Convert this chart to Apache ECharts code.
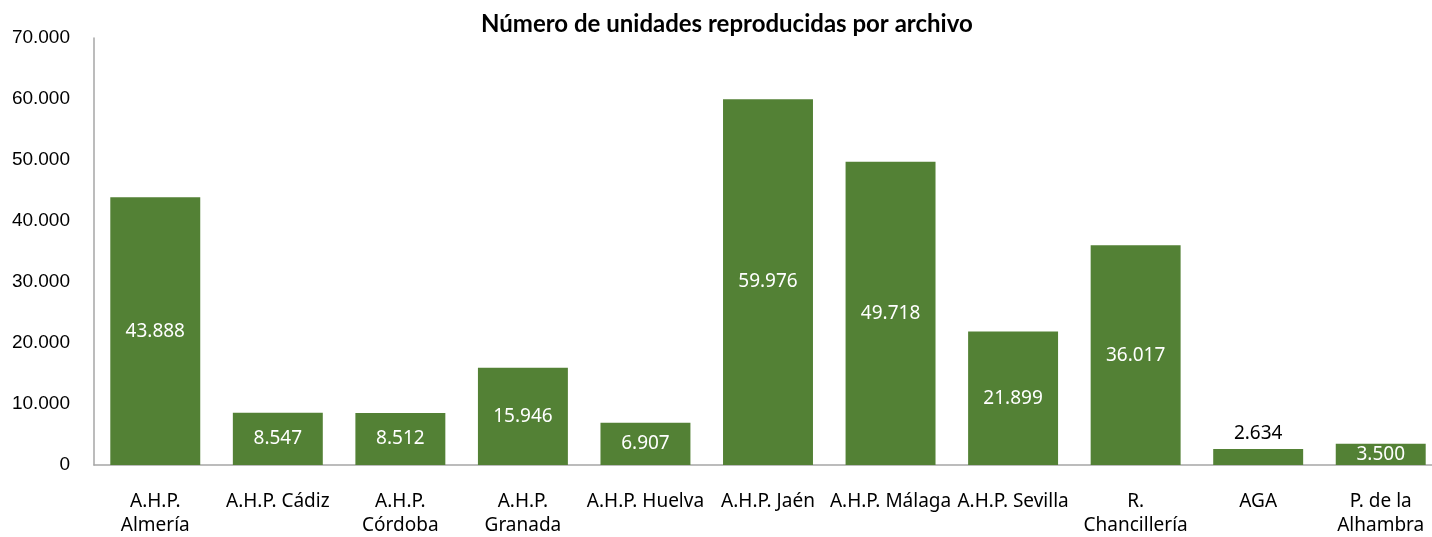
<!DOCTYPE html>
<html>
<head>
<meta charset="utf-8">
<script src="https://cdn.jsdelivr.net/npm/echarts@6/dist/echarts.min.js"></script>
<style>
  html, body { margin: 0; padding: 0; background: #fff; }
  #chart { width: 1432px; height: 537px; }
</style>
</head>
<body>
<div id="chart"></div>
<script>
// categorías y valores
var categorias = ['A.H.P.\nAlmería', 'A.H.P. Cádiz', 'A.H.P.\nCórdoba', 'A.H.P.\nGranada', 'A.H.P. Huelva',
    'A.H.P. Jaén', 'A.H.P. Málaga', 'A.H.P. Sevilla', 'R.\nChancillería', 'AGA', 'P. de la\nAlhambra'];
var unidades = [43888, 8547, 8512, 15946, 6907, 59976, 49718, 21899, 36017, 2634, 3500];
var etiquetasFuera = ['AGA']; // etiqueta encima de la barra

function fmt(v) {
    return String(v).replace(/\B(?=(\d{3})+(?!\d))/g, '.');
}

var datos = [];
for (var i = 0; i < unidades.length; i++) {
    var fuera = etiquetasFuera.indexOf(categorias[i]) >= 0;
    datos.push({
        value: unidades[i],
        label: fuera ? { position: 'top', color: '#000', distance: 6 } : {}
    });
}

var myChart = echarts.init(document.getElementById('chart'));
var option = {
    animation: false,
    title: {
        text: 'Número de unidades reproducidas por archivo',
        left: 476,
        top: 7,
        textStyle: { fontFamily: 'Lato', fontWeight: 'bold', fontSize: 24, color: '#000' }
    },
    grid: { left: 94, right: -10, top: 38, bottom: 72, containLabel: false, outerBoundsMode: 'none' },
    xAxis: {
        type: 'category',
        data: categorias,
        axisLine: { lineStyle: { color: '#a6a6a6', width: 1.5 } },
        axisTick: { show: false },
        axisLabel: {
            interval: 0,
            margin: 25,
            fontFamily: 'Noto Sans',
            fontSize: 19,
            lineHeight: 24,
            color: '#000'
        }
    },
    yAxis: {
        type: 'value',
        min: 0,
        max: 70000,
        interval: 10000,
        splitLine: { show: false },
        axisLine: { show: true, lineStyle: { color: '#a6a6a6', width: 1.5 } },
        axisTick: { show: false },
        axisLabel: {
            margin: 24,
            fontFamily: 'Liberation Sans',
            fontSize: 19,
            color: '#000',
            formatter: function (v) { return fmt(v); }
        }
    },
    series: [
        {
            type: 'bar',
            data: datos,
            barCategoryGap: '26.6%',
            itemStyle: { color: '#538135' },
            label: {
                show: true,
                position: 'inside',
                color: '#fff',
                fontFamily: 'Noto Sans',
                fontSize: 19,
                formatter: function (p) { return fmt(p.value); }
            }
        }
    ]
};
myChart.setOption(option);
</script>
</body>
</html>
